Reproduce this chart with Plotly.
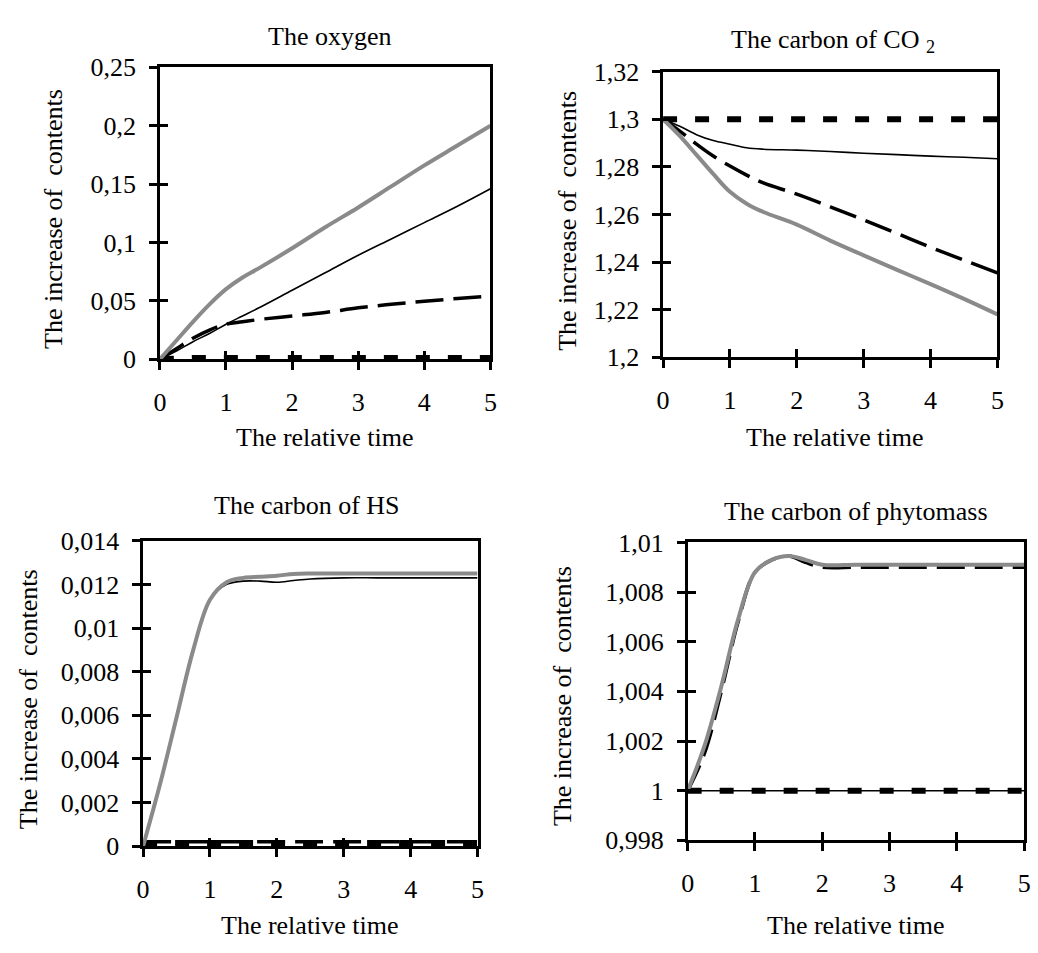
import plotly.graph_objects as go

# relative time (x) for every curve
t_oxy = [0, 0.25, 0.5, 0.75, 1, 1.25, 1.5, 2, 2.5, 3, 3.5, 4, 4.5, 5]
oxy_gray = [0, 0.016, 0.032, 0.047, 0.06, 0.07, 0.078, 0.095, 0.113, 0.13, 0.148, 0.166, 0.183, 0.2]
oxy_thin = [0, 0.007, 0.015, 0.022, 0.03, 0.037, 0.044, 0.059, 0.074, 0.089, 0.103, 0.117, 0.131, 0.146]
oxy_long = [0, 0.009, 0.018, 0.025, 0.03, 0.032, 0.034, 0.037, 0.04, 0.044, 0.047, 0.0496, 0.052, 0.054]
oxy_short = [0, 0.001, 0.001, 0.001, 0.001, 0.001, 0.001, 0.001, 0.001, 0.001, 0.001, 0.001, 0.001, 0.001]

t_co2 = [0, 0.25, 0.5, 0.75, 1, 1.25, 1.5, 2, 2.5, 3, 3.5, 4, 4.5, 5]
co2_gray = [1.3, 1.293, 1.285, 1.277, 1.2695, 1.2645, 1.261, 1.2557, 1.249, 1.2428, 1.2367, 1.2307, 1.2245, 1.218]
co2_thin = [1.3, 1.297, 1.2935, 1.291, 1.2895, 1.288, 1.2874, 1.287, 1.2864, 1.2857, 1.2851, 1.2845, 1.284, 1.2834]
co2_long = [1.3, 1.295, 1.2895, 1.2845, 1.2803, 1.2765, 1.2732, 1.2685, 1.2632, 1.2577, 1.252, 1.2462, 1.2408, 1.2354]
co2_short = [1.3] * 14

t_hs = [0, 0.25, 0.5, 0.75, 1, 1.25, 1.5, 1.75, 2, 2.25, 2.5, 3, 3.5, 4, 4.5, 5]
hs_gray = [0, 0.0028, 0.0059, 0.009, 0.0113, 0.0121, 0.0123, 0.01235, 0.0124, 0.01248, 0.0125, 0.0125, 0.0125,
           0.0125, 0.0125, 0.0125]
hs_thin = [0, 0.0028, 0.0059, 0.009, 0.0113, 0.012, 0.01215, 0.01215, 0.0121, 0.01218, 0.01225, 0.0123, 0.0123,
           0.0123, 0.0123, 0.0123]
hs_long = [0.0002] * 16
hs_short = [0.00015] * 16

t_phy = [0, 0.25, 0.5, 0.75, 1, 1.25, 1.5, 1.75, 2, 2.5, 3, 3.5, 4, 4.5, 5]
phy_gray = [1.0, 1.0018, 1.0042, 1.0069, 1.0088, 1.0093, 1.00945, 1.0093, 1.0091, 1.0091, 1.0091, 1.0091, 1.0091,
            1.0091, 1.0091]
phy_long = [1.0, 1.0015, 1.004, 1.0068, 1.0088, 1.0093, 1.00945, 1.0092, 1.009, 1.009, 1.009, 1.009, 1.009, 1.009,
            1.009]
phy_thin = [1.0] * 15
phy_short = [1.0] * 15

x_ticks = [0, 1, 2, 3, 4, 5]
x_ticktext = ["0", "1", "2", "3", "4", "5"]

oxy_yticks = [0, 0.05, 0.1, 0.15, 0.2, 0.25]
oxy_yticktext = ["0", "0,05", "0,1", "0,15", "0,2", "0,25"]
co2_yticks = [1.2, 1.22, 1.24, 1.26, 1.28, 1.3, 1.32]
co2_yticktext = ["1,2", "1,22", "1,24", "1,26", "1,28", "1,3", "1,32"]
hs_yticks = [0, 0.002, 0.004, 0.006, 0.008, 0.01, 0.012, 0.014]
hs_yticktext = ["0", "0,002", "0,004", "0,006", "0,008", "0,01", "0,012", "0,014"]
phy_yticks = [0.998, 1, 1.002, 1.004, 1.006, 1.008, 1.01]
phy_yticktext = ["0,998", "1", "1,002", "1,004", "1,006", "1,008", "1,01"]

titles = ["The oxygen", "The carbon of CO <sub>2</sub>", "The carbon of HS", "The carbon of phytomass"]

FONT = "Liberation Serif"
FS = 26

panels = [
    # t, thin, long, short, gray, yticks, yticktext, x domain, y domain
    (t_oxy, oxy_thin, oxy_long, oxy_short, oxy_gray, oxy_yticks, oxy_yticktext, [0.1493, 0.4721], [0.6264, 0.9423]),
    (t_co2, co2_thin, co2_long, co2_short, co2_gray, co2_yticks, co2_yticktext, [0.6407, 0.9672], [0.6285, 0.9377]),
    (t_hs, hs_thin, hs_long, hs_short, hs_gray, hs_yticks, hs_yticktext, [0.1329, 0.4595], [0.0994, 0.4299]),
    (t_phy, phy_thin, phy_long, phy_short, phy_gray, phy_yticks, phy_yticktext, [0.6647, 0.9933], [0.1057, 0.4281]),
]

fig = go.Figure()
layout = {}

for i, (t, thin, long_, short, gray, yt, ytt, xd, yd) in enumerate(panels):
    n = i + 1
    xa = "x" if n == 1 else "x%d" % n
    ya = "y" if n == 1 else "y%d" % n
    fig.add_trace(go.Scatter(x=t, y=thin, xaxis=xa, yaxis=ya, mode="lines",
                             line=dict(color="black", width=1.6), line_shape="spline"))
    fig.add_trace(go.Scatter(x=t, y=long_, xaxis=xa, yaxis=ya, mode="lines",
                             line=dict(color="black", width=3.5, dash="28px,10px"), line_shape="spline"))
    fig.add_trace(go.Scatter(x=t, y=short, xaxis=xa, yaxis=ya, mode="lines",
                             line=dict(color="black", width=6, dash="14px,18px")))
    fig.add_trace(go.Scatter(x=t, y=gray, xaxis=xa, yaxis=ya, mode="lines",
                             line=dict(color="#8a8a8a", width=4), line_shape="spline"))

    # crossing ticks: an overlay axis pair with inside ticks
    m = n + 4
    fig.add_trace(go.Scatter(x=[0], y=[yt[0]], xaxis="x%d" % m, yaxis="y%d" % m, mode="markers",
                             marker=dict(opacity=0), hoverinfo="skip"))

    common = dict(showgrid=False, zeroline=False, linecolor="black", linewidth=2.5,
                  tickcolor="black", tickwidth=2.5, ticklen=8,
                  tickfont=dict(family=FONT, size=FS, color="black"))
    layout["xaxis%d" % n] = dict(common, domain=xd, anchor=ya, range=[0, 5], tickvals=x_ticks,
                                 ticktext=x_ticktext, ticks="outside", mirror=True, showline=True,
                                 ticklabelstandoff=10)
    layout["yaxis%d" % n] = dict(common, domain=yd, anchor=xa, range=[yt[0], yt[-1]], tickvals=yt,
                                 ticktext=ytt, ticks="outside", mirror=True, showline=True,
                                 ticklabelstandoff=8)
    layout["xaxis%d" % m] = dict(common, overlaying=xa, anchor="y%d" % m, range=[0, 5], tickvals=x_ticks,
                                 ticks="inside", showticklabels=False, showline=False)
    layout["yaxis%d" % m] = dict(common, overlaying=ya, anchor="x%d" % m, range=[yt[0], yt[-1]], tickvals=yt,
                                 ticks="inside", showticklabels=False, showline=False)

# titles and axis captions
ann = []
title_pos = [(0.3150, 0.9759), (0.8064, 0.9706), (0.2929, 0.468), (0.8295, 0.4617)]
xcap_pos = [(0.3107, 0.5415), (0.8083, 0.5415), (0.2962, 0.0136), (0.8290, 0.0136)]
ycap_pos = [(0.0453, 0.7786), (0.5472, 0.7765), (0.0212, 0.2581), (0.5424, 0.2623)]
for k in range(4):
    ann.append(dict(text=titles[k], x=title_pos[k][0], y=title_pos[k][1], xref="paper", yref="paper",
                    showarrow=False, xanchor="center", yanchor="middle"))
    ann.append(dict(text="The relative time", x=xcap_pos[k][0], y=xcap_pos[k][1], xref="paper", yref="paper",
                    showarrow=False, xanchor="center", yanchor="middle"))
    ann.append(dict(text="The increase of  contents", x=ycap_pos[k][0], y=ycap_pos[k][1], xref="paper",
                    yref="paper", showarrow=False, textangle=-90, xanchor="center", yanchor="middle"))

layout.update({
    "width": 1038,
    "height": 953,
    "margin": {"l": 0, "r": 0, "t": 0, "b": 0},
    "showlegend": False,
    "paper_bgcolor": "white",
    "plot_bgcolor": "white",
    "font": {"family": FONT, "size": FS, "color": "black"},
    "annotations": ann,
})
fig.update_layout(layout)

fig.write_html("out.html", config={"displayModeBar": False},
               post_script="document.body.style.margin='0';")
